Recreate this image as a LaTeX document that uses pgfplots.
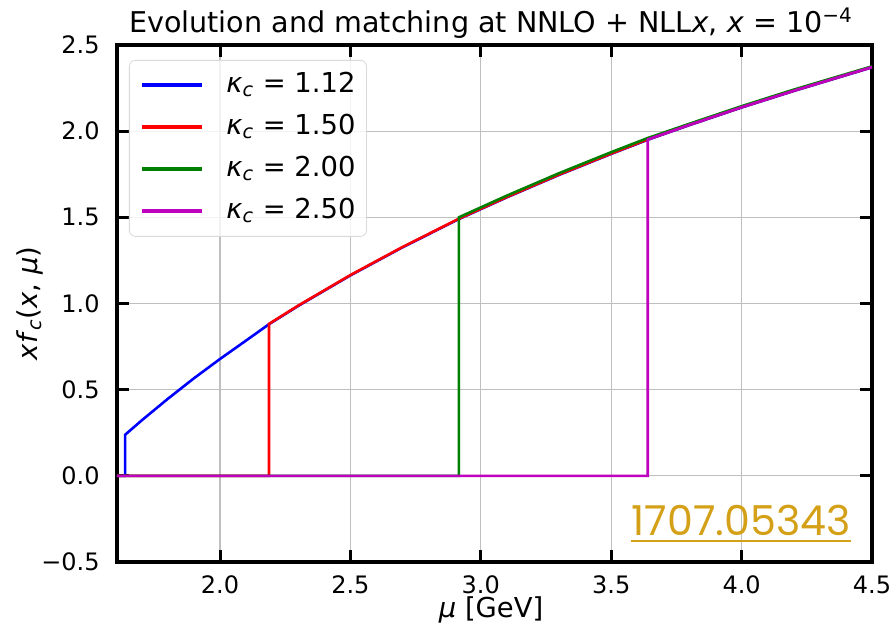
\documentclass[border=0pt]{standalone}
\usepackage{fontspec}
\setmainfont{DejaVu Sans}
\newfontfamily\refont{Poppins}
\usepackage{pgfplots}
\pgfplotsset{compat=1.18}

\definecolor{mplblue}{rgb}{0,0,1}
\definecolor{mplred}{rgb}{1,0,0}
\definecolor{mplgreen}{rgb}{0,0.5,0}
\definecolor{mplmagenta}{rgb}{0.75,0,0.75}
\definecolor{refgold}{RGB}{212,160,23}

\newcommand{\kc}[1]{{\itshape κ}\textsubscript{\itshape c} = #1}

\begin{document}
\begin{tikzpicture}
\begin{axis}[
  at={(0,0)}, anchor=south west,
  scale only axis, width=377.5pt, height=258.5pt,
  xmin=1.605, xmax=4.5, ymin=-0.5, ymax=2.5,
  xtick={2,2.5,3,3.5,4,4.5},
  xticklabels={2.0,2.5,3.0,3.5,4.0,4.5},
  ytick={-0.5,0,0.5,1,1.5,2,2.5},
  yticklabels={−0.5,0.0,0.5,1.0,1.5,2.0,2.5},
  tick pos=both, tick align=inside,
  major tick length=6pt,
  major tick style={black, line width=1.5pt},
  axis line style={black, line width=1.8pt},
  grid=major,
  major grid style={black!25, line width=0.6pt},
  ticklabel style={font=\fontsize{12}{14}\selectfont},
  xticklabel style={anchor=base, yshift=-16pt},
  yticklabel style={anchor=east, inner sep=0pt, xshift=-8.5pt},
  title={Evolution and matching at NNLO + NLL\textit{x}, \textit{x} = 10\textsuperscript{−4}},
  title style={at={(axis description cs:0.4954,1)}, anchor=base,
    font=\fontsize{14.3}{17}\selectfont},
  xlabel={\textit{μ} [GeV]},
  xlabel style={at={(axis description cs:0.4954,0)}, anchor=base, yshift=-28pt,
    font=\fontsize{13.7}{16}\selectfont},
  ylabel={\textit{xf}\textsubscript{\textit{c}}(\textit{x}, \textit{μ})},
  ylabel style={at={(axis description cs:-0.1152,0.5)}, anchor=center,
    font=\fontsize{13.7}{16}\selectfont},
  legend cell align=left,
  legend image code/.code={\draw[line width=2pt] (0pt,0pt) -- (30pt,0pt);},
  legend style={at={(0,1)}, anchor=north west, xshift=6pt, yshift=-7.5pt,
    draw=black!15, rounded corners=3pt, fill=white, fill opacity=0.8,
    text opacity=1, draw opacity=1,
    font=\fontsize{13.7}{16}\selectfont,
    inner xsep=5.5pt, inner ysep=6pt, row sep=8pt,
    nodes={inner sep=0pt, text height=10pt, text depth=3pt},
    /tikz/every odd column/.append style={column sep=11pt}},
]

% kappa_c = 1.12 : threshold at 1.636 GeV
\addplot[mplblue, line width=1.3pt] coordinates {
  (1.605,0) (1.636,0) (1.636,0.238) (1.7,0.322) (1.8,0.447) (1.9,0.566)
  (2.0,0.678) (2.1,0.785) (2.188,0.880) (2.3,0.986) (2.5,1.163) (2.7,1.326)
  (2.916,1.490) (3.1,1.616) (3.3,1.746) (3.5,1.868) (3.64,1.950) (3.8,2.035)
  (4.0,2.137) (4.2,2.233) (4.5,2.370)
};
\addlegendentry{\kc{1.12}}

% kappa_c = 1.50 : threshold at 2.188 GeV
\addplot[mplred, line width=1.3pt] coordinates {
  (1.605,0) (2.188,0) (2.188,0.882) (2.3,0.988) (2.5,1.165) (2.7,1.328)
  (2.916,1.492) (3.1,1.618) (3.3,1.748) (3.5,1.870) (3.64,1.952) (3.8,2.037)
  (4.0,2.139) (4.2,2.235) (4.5,2.372)
};
\addlegendentry{\kc{1.50}}

% kappa_c = 2.00 : threshold at 2.916 GeV
\addplot[mplgreen, line width=1.3pt] coordinates {
  (1.605,0) (2.916,0) (2.916,1.500) (3.1,1.626) (3.3,1.756) (3.5,1.878)
  (3.64,1.960) (3.8,2.043) (4.0,2.145) (4.2,2.241) (4.5,2.376)
};
\addlegendentry{\kc{2.00}}

% kappa_c = 2.50 : threshold at 3.640 GeV
\addplot[mplmagenta, line width=1.3pt] coordinates {
  (1.605,0) (3.64,0) (3.64,1.952) (3.8,2.037) (4.0,2.139) (4.2,2.235)
  (4.5,2.372)
};
\addlegendentry{\kc{2.50}}

\node[refgold, font=\refont\fontsize{20.6}{24}\selectfont, inner sep=0pt,
  anchor=base] (arx) at (rel axis cs:0.8265,0.0522) {1707.05343};
\draw[refgold, line width=1pt] ([yshift=-3pt]arx.base west) -- ([yshift=-3pt]arx.base east);
\end{axis}
\pgfresetboundingbox
\path ([xshift=-58.5pt,yshift=-31pt]current axis.south west)
  rectangle ([xshift=10pt,yshift=22.5pt]current axis.north east);
\end{tikzpicture}
\end{document}
